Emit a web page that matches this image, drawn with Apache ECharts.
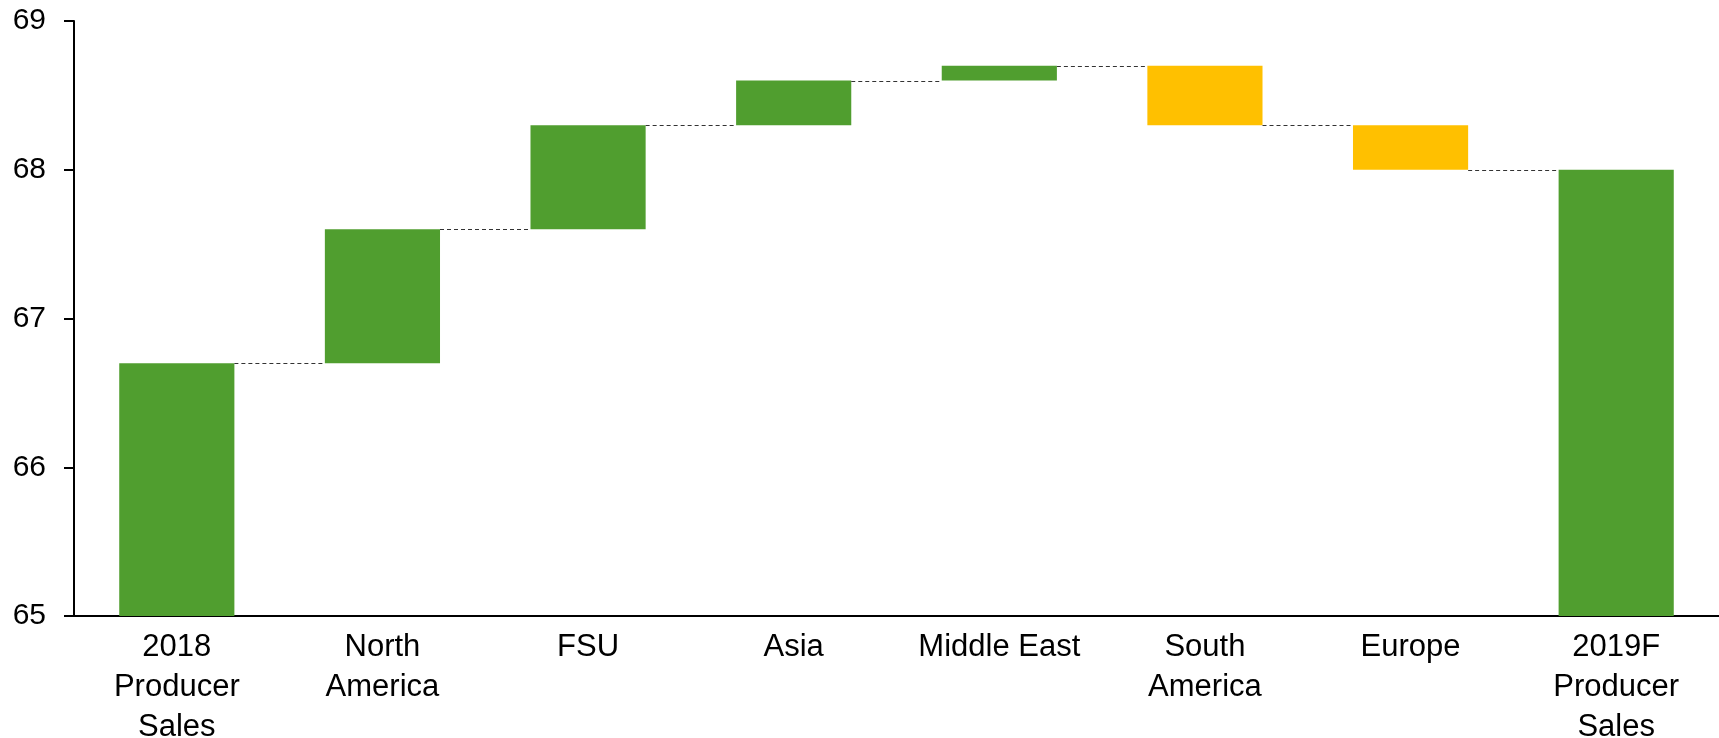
<!DOCTYPE html>
<html>
<head>
<meta charset="utf-8">
<script src="https://cdn.jsdelivr.net/npm/echarts@6/dist/echarts.min.js"></script>
<style>
html,body{margin:0;padding:0;background:#fff;}
#chart{width:1719px;height:738px;}
</style>
</head>
<body>
<div id="chart"></div>
<script>
const categories = ['2018\nProducer\nSales', 'North\nAmerica', 'FSU', 'Asia', 'Middle East', 'South\nAmerica', 'Europe', '2019F\nProducer\nSales'];
// bar bottoms and tops; totals start at 0
const barLow  = [0, 66.7, 67.6, 68.3, 68.6, 68.3, 68.0, 0];
const barHigh = [66.7, 67.6, 68.3, 68.6, 68.7, 68.7, 68.3, 68.0];
const barKind = ['up', 'up', 'up', 'up', 'up', 'down', 'down', 'up'];
// connector levels (running total after each category)
const connectorLevels = [66.7, 67.6, 68.3, 68.6, 68.7, 68.3, 68.0];
const yTicks = [65, 66, 67, 68, 69];

const GREEN = '#509E2F', YELLOW = '#FFC000';
const FONT = 'Liberation Sans, Arial, sans-serif';
const BARW = 0.56;

const chart = echarts.init(document.getElementById('chart'), null, {renderer: 'canvas'});
chart.setOption({
  animation: false,
  backgroundColor: '#ffffff',
  grid: {left: 74, right: 0, top: 21, bottom: 122, containLabel: false, outerBoundsMode: 'none'},
  xAxis: {
    type: 'category',
    data: categories,
    axisLine: {lineStyle: {color: '#000', width: 2}},
    axisTick: {show: false},
    axisLabel: {interval: 0, fontSize: 31, lineHeight: 40, color: '#000', fontFamily: FONT, margin: 11}
  },
  yAxis: {
    type: 'value',
    min: yTicks[0], max: yTicks[yTicks.length - 1], interval: 1,
    splitLine: {show: false},
    axisLine: {show: true, lineStyle: {color: '#000', width: 2}},
    axisTick: {show: true, length: 10, lineStyle: {color: '#000', width: 2}},
    axisLabel: {fontSize: 30, color: '#000', fontFamily: FONT, margin: 28}
  },
  series: [
    {
      type: 'bar', stack: 'w', barWidth: (BARW * 100) + '%',
      itemStyle: {color: 'rgba(0,0,0,0)'},
      data: barLow, silent: true
    },
    {
      type: 'bar', stack: 'w', barWidth: (BARW * 100) + '%',
      data: barHigh.map((h, i) => ({
        value: +(h - barLow[i]).toFixed(4),
        itemStyle: {color: barKind[i] === 'up' ? GREEN : YELLOW}
      }))
    },
    {
      type: 'custom',
      encode: {x: 0, y: 1},
      data: connectorLevels.map((v, i) => [i, v]),
      renderItem: function (params, api) {
        const i = api.value(0), lvl = api.value(1);
        const p = api.coord([i, lvl]);
        const w = api.size([1, 0])[0];
        const y = Math.round(p[1]) + 0.5;
        return {
          type: 'line',
          shape: {x1: p[0] + w * BARW / 2, y1: y, x2: p[0] + w - w * BARW / 2, y2: y},
          style: {stroke: '#333', lineWidth: 1, lineDash: [4, 3]}
        };
      },
      z: 5
    }
  ]
});
</script>
</body>
</html>
